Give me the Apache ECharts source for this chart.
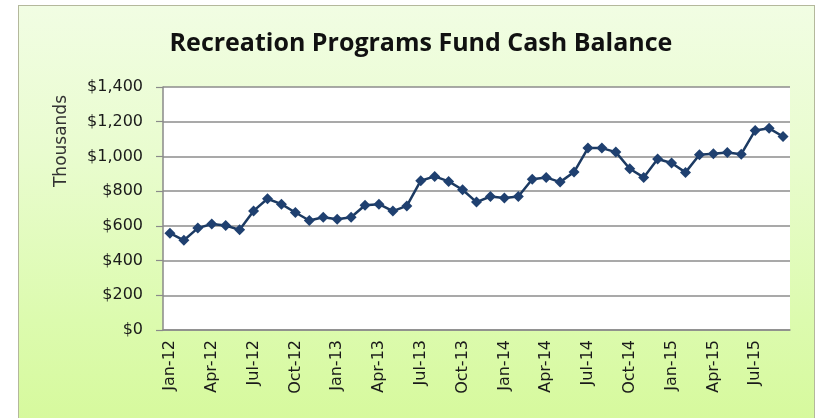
<!DOCTYPE html>
<html>
<head>
<meta charset="utf-8">
<script src="https://cdn.jsdelivr.net/npm/echarts@6/dist/echarts.min.js"></script>
<style>
html,body{margin:0;padding:0;background:#ffffff;}
#frame{position:absolute;left:18px;top:5px;width:795px;height:420px;border:1.5px solid #b4b89c;
background:linear-gradient(to bottom,#f1fde3 0%,#e9fccf 35%,#dcfbae 75%,#d6f99c 100%);}
#chart{position:absolute;left:0;top:0;width:819px;height:418px;}
</style>
</head>
<body>
<div id="frame"></div>
<div id="chart"></div>
<script>
const months = ["Jan-12","Feb-12","Mar-12","Apr-12","May-12","Jun-12","Jul-12","Aug-12","Sep-12","Oct-12","Nov-12","Dec-12",
"Jan-13","Feb-13","Mar-13","Apr-13","May-13","Jun-13","Jul-13","Aug-13","Sep-13","Oct-13","Nov-13","Dec-13",
"Jan-14","Feb-14","Mar-14","Apr-14","May-14","Jun-14","Jul-14","Aug-14","Sep-14","Oct-14","Nov-14","Dec-14",
"Jan-15","Feb-15","Mar-15","Apr-15","May-15","Jun-15","Jul-15","Aug-15","Sep-15"];
const cashBalance = [558,517,587,611,602,577,686,756,725,677,631,650,
638,650,719,725,685,715,860,885,856,808,737,769,
760,769,869,879,852,910,1048,1048,1025,929,879,985,
962,908,1010,1015,1023,1013,1150,1162,1115];
const yTicks = [0,200,400,600,800,1000,1200,1400];
const titleText = "Recreation Programs Fund Cash Balance";
const yAxisName = "Thousands";

const chart = echarts.init(document.getElementById('chart'), null, {renderer:'canvas'});
const fmt = v => '$' + v.toLocaleString('en-US');
chart.setOption({
  backgroundColor: 'transparent',
  animation: false,
  title: {
    text: titleText,
    left: 416, top: 26, textAlign: 'center',
    textStyle: {fontFamily: 'Open Sans', fontWeight: 'bold', fontSize: 25, color: '#111'}
  },
  grid: {left: 163, top: 87, right: 29, bottom: 88},
  xAxis: {
    type: 'category',
    data: months,
    boundaryGap: true,
    axisLine: {lineStyle: {color: '#8a8a8a', width: 1.5}},
    axisTick: {interval: 2, length: 6, lineStyle: {color: '#8a8a8a', width: 1.2}},
    axisLabel: {interval: 2, rotate: 90, fontFamily: 'DejaVu Sans', fontSize: 16, color: '#1a1a1a', margin: 10}
  },
  yAxis: {
    type: 'value',
    min: yTicks[0], max: yTicks[yTicks.length-1], interval: 200,
    axisLine: {show: true, lineStyle: {color: '#8a8a8a', width: 1.5}},
    axisTick: {show: true, length: 7, lineStyle: {color: '#8a8a8a', width: 1.2}},
    splitLine: {lineStyle: {color: '#8c8c8c', width: 1.5}},
    axisLabel: {formatter: fmt, fontFamily: 'DejaVu Sans', fontSize: 16, color: '#1a1a1a', margin: 20}
  },
  graphic: [{
    type: 'rect', z: -1, silent: true,
    shape: {x: 163, y: 87, width: 627, height: 243},
    style: {fill: '#ffffff'}
  },{
    type: 'text', rotation: Math.PI/2, x: 62, y: 141,
    style: {text: yAxisName, fontFamily: 'DejaVu Sans', fontSize: 17, fill: '#333', align: 'center', verticalAlign: 'middle'}
  }],
  series: [{
    type: 'line',
    data: cashBalance,
    symbol: 'diamond',
    symbolSize: 11,
    showSymbol: true,
    showAllSymbol: true,
    lineStyle: {color: '#1c3a62', width: 2.5},
    itemStyle: {color: '#1f4070'}
  }]
});
</script>
</body>
</html>
